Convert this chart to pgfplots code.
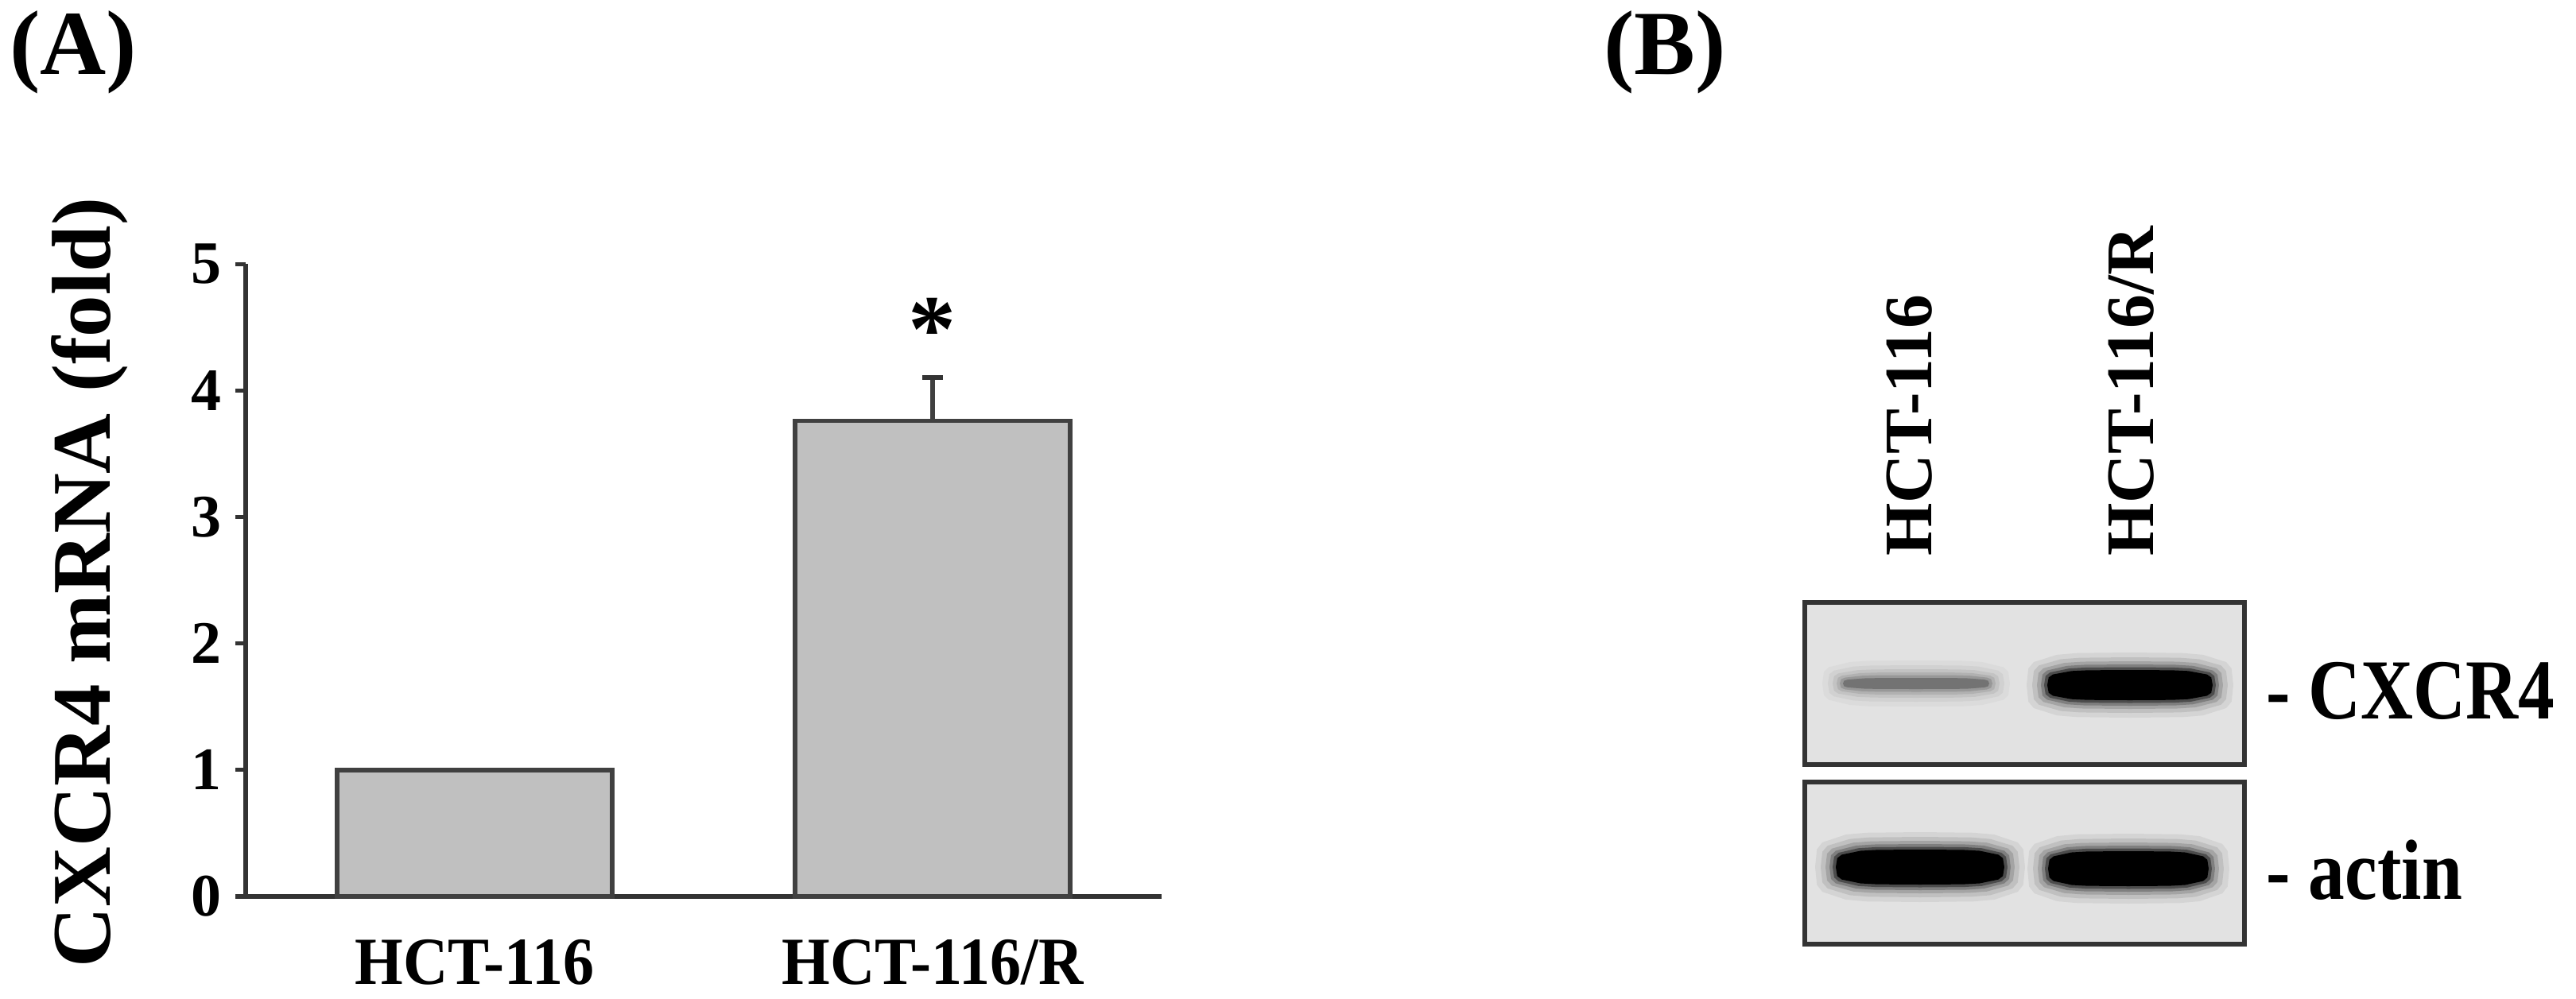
\documentclass[border=0pt]{standalone}
\usepackage{fontspec}
\setmainfont{Liberation Serif}
\newfontfamily\condA{Liberation Serif}[FakeStretch=0.92]
\newfontfamily\condB{Liberation Serif}[FakeStretch=0.85]
\usepackage{pgfplots}
\usepackage{pgfplotstable}
\pgfplotsset{compat=1.18}

\definecolor{barfill}{HTML}{C0C0C0}
\definecolor{baredge}{HTML}{404040}
\definecolor{axisgray}{HTML}{333333}
\definecolor{blotbg}{HTML}{E2E2E2}

% unit "pill" outline used for the blot bands
\pgfplotstableread{
u v
1 0
0.983 0.509
0.931 0.707
0.707 0.931
0.509 0.983
0 1
-0.509 0.983
-0.707 0.931
-0.931 0.707
-0.983 0.509
-1 0
-0.983 -0.509
-0.931 -0.707
-0.707 -0.931
-0.509 -0.983
0 -1
0.509 -0.983
0.707 -0.931
0.931 -0.707
0.983 -0.509
}\pill

% one soft layer of a band: cx, cy, half width, half height, colour, opacity
\newcommand{\layer}[6]{%
  \addplot[draw=none, fill=#5, fill opacity=#6]
    table[x expr={#1+(#3)*\thisrow{u}}, y expr={#2+(#4)*\thisrow{v}}] {\pill};
}
% \band{cx}{cy}{half width}{half height}{colour}, in pixel units of the blot
\newcommand{\band}[5]{%
  \layer{#1}{#2}{#3+26}{#4+22}{#5}{0.06}
  \layer{#1}{#2}{#3+19}{#4+16}{#5}{0.09}
  \layer{#1}{#2}{#3+13}{#4+11}{#5}{0.14}
  \layer{#1}{#2}{#3+8}{#4+7}{#5}{0.22}
  \layer{#1}{#2}{#3+4}{#4+3.5}{#5}{0.4}
  \layer{#1}{#2}{#3}{#4}{#5}{1}
}

\pgfplotsset{
  blot/.style={
    anchor=south west, scale only axis, width=3.0722cm, height=1.1333cm,
    xmin=2270, xmax=2823, y dir=reverse,
    xtick=\empty, ytick=\empty,
    axis line style={draw=axisgray, line width=0.9pt},
    axis background/.style={fill=blotbg},
  }
}

\begin{document}
\begin{tikzpicture}
\useasboundingbox (0,0) rectangle (18,6.9778);

% panel letters
\node[anchor=base west, inner sep=0pt, font=\fontsize{18.2}{18.2}\selectfont\bfseries] at (0.061,6.4611) {(A)};
\node[anchor=base west, inner sep=0pt, font=\fontsize{18.2}{18.2}\selectfont\bfseries] at (11.20,6.4611) {(B)};

% (A) bar chart
\begin{axis}[
  at={(1.7167cm,0.7111cm)}, anchor=south west,
  scale only axis, width=6.4cm, height=4.4222cm,
  xmin=-0.5, xmax=1.5, ymin=0, ymax=5,
  axis x line=bottom, axis y line=left,
  axis line style={-, line width=0.9pt, draw=axisgray},
  ybar,
  ytick={0,1,2,3,4,5},
  xtick={0,1}, xticklabels={HCT-116, HCT-116/R},
  xtick style={draw=none},
  ytick style={line width=0.8pt, draw=axisgray},
  tick align=outside, major tick length=2.05pt,
  /pgf/number format/assume math mode=true,
  yticklabel style={font=\fontsize{12}{12}\selectfont\bfseries, inner sep=0pt, xshift=-2.5pt},
  xticklabel style={font=\fontsize{13.4}{13.4}\condA\bfseries, anchor=base, inner sep=0pt, yshift=-0.5444cm},
  clip=false,
]
\addplot[bar shift=0pt, bar width=1.92cm, fill=barfill, draw=baredge, line width=0.9pt]
  coordinates {(0,1)};
\addplot[bar shift=0pt, bar width=1.92cm, fill=barfill, draw=baredge, line width=0.9pt,
  error bars/.cd, y dir=plus, y explicit,
  error bar style={line width=0.9pt, draw=baredge},
  error mark options={rotate=90, mark size=2.05pt, line width=0.9pt, draw=axisgray}]
  coordinates {(1,3.76) +- (0,0.34)};
\node[anchor=base, inner sep=0pt, font=\fontsize{19}{19}\selectfont\bfseries] at (axis cs:1,4.23) {*};
\end{axis}

\node[rotate=90, anchor=base, inner sep=0pt, font=\fontsize{16.6}{16.6}\selectfont\bfseries] at (0.7667,2.9056) {CXCR4 mRNA (fold)};

% (B) blot, pixel units of the figure, y downwards
\begin{axis}[blot, at={(12.6111cm,1.6333cm)}, ymin=758, ymax=962]
\band{2410}{860}{92}{7}{black!55}
\band{2679}{862}{104}{19}{black}
\end{axis}
\begin{axis}[blot, at={(12.6111cm,0.3778cm)}, ymin=984, ymax=1188]
\band{2415}{1091}{106}{22}{black}
\band{2677}{1093}{101}{22}{black}
\end{axis}

\node[rotate=90, anchor=base west, inner sep=0pt, font=\fontsize{13.5}{13.5}\selectfont\bfseries] at (13.4944,3.0833) {HCT-116};
\node[rotate=90, anchor=base west, inner sep=0pt, font=\fontsize{13.5}{13.5}\selectfont\bfseries] at (15.0444,3.0833) {HCT-116/R};
\node[anchor=base west, inner sep=0pt, font=\fontsize{17}{17}\condB\bfseries] at (15.83,1.9556) {- CXCR4};
\node[anchor=base west, inner sep=0pt, font=\fontsize{17}{17}\condB\bfseries] at (15.83,0.6944) {- actin};
\end{tikzpicture}
\end{document}
